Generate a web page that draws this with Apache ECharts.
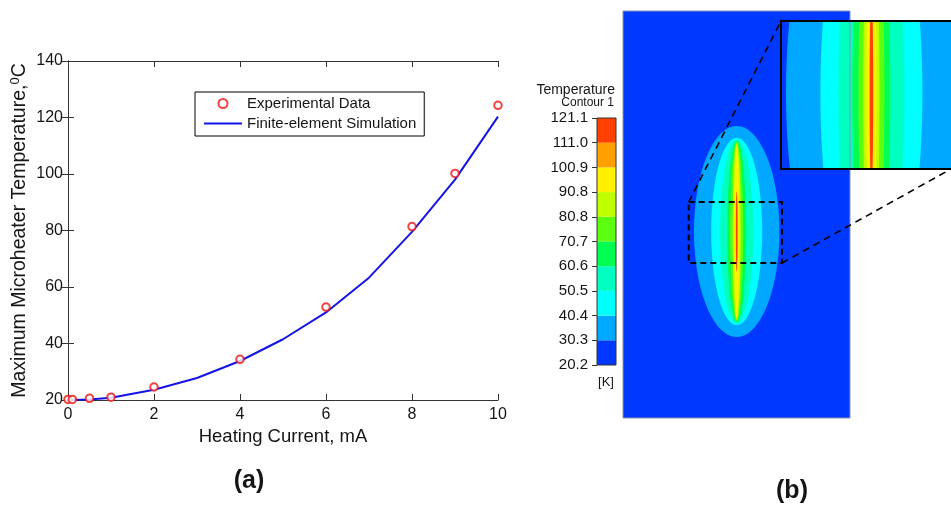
<!DOCTYPE html>
<html>
<head>
<meta charset="utf-8">
<script src="https://cdn.jsdelivr.net/npm/echarts@6/dist/echarts.min.js"></script>
<style>
  html, body { margin: 0; padding: 0; background: #fff; }
  #chart { width: 951px; height: 505px; }
</style>
</head>
<body>
<div id="chart"></div>
<script>
// (a) max heater temperature vs heating current
const expCurrent = [0, 0.1, 0.5, 1, 2, 4, 6, 8, 9, 10];
const expTemp = [20.2, 20.2, 20.6, 21, 24.6, 34.4, 52.9, 81.4, 100.2, 124.3];
const simCurrent = [0, 0.1, 0.5, 1, 2, 3, 4, 5, 6, 7, 8, 9, 10];
const simTemp = [20, 20, 20.2, 20.8, 23.6, 27.8, 33.8, 41.5, 51, 63.3, 79.5, 98, 120.3];

// (b) contour legend
const levelLabels = ['20.2', '30.3', '40.4', '50.5', '60.6', '70.7', '80.8', '90.8', '100.9', '111.0', '121.1'];
const levelColors = ['#0038ff', '#00a8ff', '#00ffff', '#00ffc0', '#00ff50', '#5cff10', '#c0ff00', '#fff000', '#ffa000', '#ff4000'];

// (b) model domain and contour bands: [level, half width, half height]
const domain = [227, 407];
const heaterCenter = [113.7, 186.5];
const contourBands = [
  [1, 42.7, 105.5],
  [2, 25.5, 93.7],
  [3, 16.5, 91.5],
  [4, 9.5, 90.5],
  [5, 6.5, 89.5],
  [6, 4, 88.5],
  [7, 2.5, 87],
  [9, 0.9, 40]
];
const zoomBox = [65.7, 155, 159, 216];
// part of the zoomed view that fits on the page
const insetX = [68.5, 153.5];
const insetY = [155, 216];

const font = "'Liberation Sans', Arial, sans-serif";
const ink = '#151515';

const chart = echarts.init(document.getElementById('chart'));

function rectFrom(api, a, b) {
  const p0 = api.coord(a), p1 = api.coord(b);
  return {
    x: Math.min(p0[0], p1[0]), y: Math.min(p0[1], p1[1]),
    width: Math.abs(p1[0] - p0[0]), height: Math.abs(p1[1] - p0[1])
  };
}

function renderField(params, api) {
  const level = api.value(0);
  if (level === 0) {
    return { type: 'rect', shape: rectFrom(api, [0, 0], domain), style: { fill: levelColors[0] } };
  }
  const rx = api.value(1), ry = api.value(2);
  const points = [];
  for (let k = 0; k < 120; k++) {
    const t = (k / 120) * Math.PI * 2;
    points.push(api.coord([heaterCenter[0] + rx * Math.cos(t), heaterCenter[1] + ry * Math.sin(t)]));
  }
  return { type: 'polygon', shape: { points }, style: { fill: levelColors[level] } };
}

const fieldData = [[0, 0, 0]].concat(contourBands);

const axisStyle = { lineStyle: { color: '#333', width: 1 } };
const innerTick = { inside: true, length: 6, lineStyle: { color: '#333' } };

chart.setOption({
  animation: false,
  textStyle: { fontFamily: font },
  grid: [
    { left: 68, top: 61, right: 453, bottom: 105 },
    { left: 597, top: 118, width: 19, height: 247, show: true, z: 5, borderColor: '#333', borderWidth: 1, backgroundColor: 'transparent' },
    { left: 623, top: 11, width: 227, height: 407, show: true, z: 5, borderColor: '#8a94b0', borderWidth: 1, backgroundColor: 'transparent' },
    { left: 781, top: 21, width: 170, height: 148 }
  ],
  legend: {
    left: 195, top: 92, orient: 'vertical',
    itemWidth: 38, itemHeight: 9, itemGap: 5,
    padding: [4, 8, 5, 8],
    borderColor: '#000', borderWidth: 1, borderRadius: 0, backgroundColor: '#fff',
    textStyle: { fontSize: 15, color: ink, fontFamily: font },
    data: [
      'Experimental Data',
      { name: 'Finite-element Simulation', itemStyle: { color: 'rgba(0,0,0,0)', borderWidth: 0, opacity: 0 } }
    ]
  },
  xAxis: [
    {
      gridIndex: 0, type: 'value', min: 0, max: 10, interval: 2, position: 'bottom',
      name: 'Heating Current, mA', nameLocation: 'middle', nameGap: 23,
      nameTextStyle: { fontSize: 18.5, color: ink },
      axisLine: axisStyle, axisTick: innerTick,
      axisLabel: { fontSize: 16, color: ink, margin: 7 },
      splitLine: { show: false }
    },
    {
      gridIndex: 0, type: 'value', min: 0, max: 10, interval: 2, position: 'top',
      axisLine: axisStyle, axisTick: innerTick,
      axisLabel: { show: false }, splitLine: { show: false }
    },
    { gridIndex: 1, type: 'value', min: 0, max: 1, show: false },
    { gridIndex: 2, type: 'value', min: 0, max: domain[0], show: false },
    { gridIndex: 3, type: 'value', min: insetX[0], max: insetX[1], show: false }
  ],
  yAxis: [
    {
      gridIndex: 0, type: 'value', min: 20, max: 140, interval: 20, position: 'left',
      name: 'Maximum Microheater Temperature,{s|0}C', nameLocation: 'middle', nameGap: 38,
      nameTextStyle: {
        fontSize: 19.5, color: ink, lineHeight: 21,
        rich: { s: { fontSize: 13, lineHeight: 12, verticalAlign: 'top', color: ink, fontFamily: font } }
      },
      axisLine: axisStyle, axisTick: innerTick,
      axisLabel: { fontSize: 16, color: ink, margin: 5 },
      splitLine: { show: false }
    },
    {
      gridIndex: 0, type: 'value', min: 20, max: 140, interval: 20, position: 'right',
      axisLine: axisStyle, axisTick: innerTick,
      axisLabel: { show: false }, splitLine: { show: false }
    },
    {
      gridIndex: 1, type: 'value', min: 0, max: 10, interval: 1, position: 'left',
      axisLine: { show: false },
      axisTick: { show: true, inside: false, length: 5, lineStyle: { color: '#333' } },
      axisLabel: { fontSize: 15, color: ink, margin: 9, formatter: v => levelLabels[Math.round(v)] },
      splitLine: { show: false }
    },
    { gridIndex: 2, type: 'value', min: 0, max: domain[1], show: false },
    { gridIndex: 3, type: 'value', min: insetY[0], max: insetY[1], show: false }
  ],
  series: [
    {
      name: 'Finite-element Simulation', type: 'line', xAxisIndex: 0, yAxisIndex: 0,
      data: simCurrent.map((c, i) => [c, simTemp[i]]),
      symbol: 'none', lineStyle: { color: '#1414e6', width: 2 }, itemStyle: { color: '#1414e6' }, z: 2
    },
    {
      name: 'Experimental Data', type: 'scatter', xAxisIndex: 0, yAxisIndex: 0,
      data: expCurrent.map((c, i) => [c, expTemp[i]]),
      symbol: 'emptyCircle', symbolSize: 7.5,
      itemStyle: { color: '#ee1111', borderColor: '#ee1111', borderWidth: 2 }, z: 3
    },
    {
      type: 'custom', xAxisIndex: 2, yAxisIndex: 2, silent: true,
      data: levelColors.map((c, i) => [i]),
      renderItem: (params, api) => {
        const i = api.value(0);
        return { type: 'rect', shape: rectFrom(api, [0, i], [1, i + 1]), style: { fill: levelColors[i] } };
      }
    },
    {
      type: 'custom', xAxisIndex: 3, yAxisIndex: 3, silent: true, clip: true,
      data: fieldData, renderItem: renderField
    },
    {
      type: 'custom', xAxisIndex: 3, yAxisIndex: 3, silent: true, z: 4,
      data: [zoomBox],
      renderItem: (params, api) => ({
        type: 'rect',
        shape: rectFrom(api, [api.value(0), api.value(1)], [api.value(2), api.value(3)]),
        style: { fill: null, stroke: '#000', lineWidth: 2, lineDash: [6, 4] }
      })
    },
    {
      type: 'custom', xAxisIndex: 4, yAxisIndex: 4, silent: true, clip: true,
      data: fieldData, renderItem: renderField
    }
  ]
});

// zoom connectors, inset frame (its right side runs off the page) and texts
const boxTL = chart.convertToPixel({ gridIndex: 2 }, [zoomBox[0], zoomBox[3]]);
const boxBR = chart.convertToPixel({ gridIndex: 2 }, [zoomBox[2], zoomBox[1]]);
const inTL = chart.convertToPixel({ gridIndex: 3 }, [insetX[0], insetY[1]]);
const inBR = chart.convertToPixel({ gridIndex: 3 }, [insetX[1], insetY[0]]);
const frameBR = chart.convertToPixel({ gridIndex: 3 }, [zoomBox[2], insetY[0]]);

function label(text, x, y, size, align, weight) {
  return {
    type: 'text', x, y, z: 20, silent: true,
    style: {
      text, fill: ink, font: (weight || 'normal') + ' ' + size + 'px ' + font,
      align: align, verticalAlign: 'middle', textAlign: align, textVerticalAlign: 'middle'
    }
  };
}
const dashed = { stroke: '#000', lineWidth: 1.6, lineDash: [7, 5] };

chart.setOption({
  graphic: [
    { type: 'line', z: 20, silent: true, shape: { x1: boxTL[0], y1: boxTL[1], x2: inTL[0], y2: inTL[1] }, style: dashed },
    { type: 'line', z: 20, silent: true, shape: { x1: boxBR[0], y1: boxBR[1], x2: inBR[0], y2: inBR[1] }, style: dashed },
    {
      type: 'rect', z: 21, silent: true,
      shape: { x: inTL[0], y: inTL[1], width: frameBR[0] - inTL[0], height: frameBR[1] - inTL[1] },
      style: { fill: null, stroke: '#000', lineWidth: 2 }
    },
    label('Temperature', 615, 90.5, 14, 'right'),
    label('Contour 1', 614, 103, 12, 'right'),
    label('[K]', 606, 382, 13, 'center'),
    label('(a)', 249, 481, 25, 'center', 'bold'),
    label('(b)', 792, 491, 25, 'center', 'bold')
  ]
});
</script>
</body>
</html>
